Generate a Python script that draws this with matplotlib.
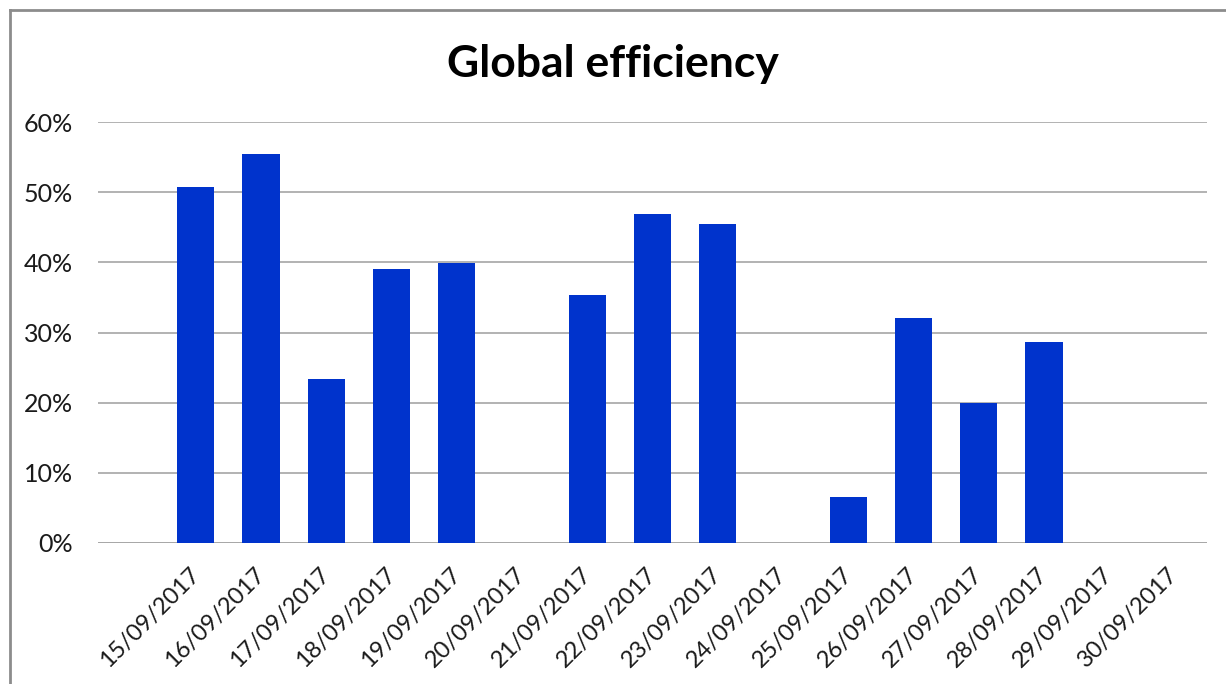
import matplotlib.pyplot as plt
import matplotlib.transforms as mtransforms
from matplotlib.lines import Line2D
from matplotlib.ticker import PercentFormatter

plt.rcParams['font.family'] = ['Lato', 'DejaVu Sans']

# data
dates = ['15/09/2017', '16/09/2017', '17/09/2017', '18/09/2017', '19/09/2017',
         '20/09/2017', '21/09/2017', '22/09/2017', '23/09/2017', '24/09/2017',
         '25/09/2017', '26/09/2017', '27/09/2017', '28/09/2017', '29/09/2017',
         '30/09/2017']
efficiency = [0.507, 0.555, 0.234, 0.391, 0.399, 0.0, 0.354, 0.469, 0.454, 0.0,
              0.066, 0.321, 0.199, 0.286, 0.0, 0.0]

fig = plt.figure(figsize=(12.26, 6.84), dpi=100)
ax = fig.add_axes([98 / 1226, 1 - 543 / 684, (1207 - 98) / 1226, (543 - 122) / 684])

x = list(range(len(dates)))
ax.bar(x, efficiency, width=0.57, color='#0033cc', zorder=3)

ax.set_xlim(-1.5, len(dates) - 0.5)
ax.set_ylim(0, 0.6)
ax.set_yticks([0, 0.1, 0.2, 0.3, 0.4, 0.5, 0.6])
ax.yaxis.set_major_formatter(PercentFormatter(1.0, decimals=0))
ax.grid(True, axis='y', color='#a6a6a6', linewidth=1.2, zorder=0)
for s in ['top', 'right', 'left', 'bottom']:
    ax.spines[s].set_visible(False)
ax.axhline(0, color='#a6a6a6', linewidth=1.2, zorder=2)

ax.set_xticks(x)
ax.set_xticklabels(dates, rotation=45, ha='right', rotation_mode='anchor')
ax.tick_params(axis='x', length=0, pad=15, labelsize=17, labelcolor='#1a1a1a')
ax.tick_params(axis='y', length=0, pad=18, labelsize=18, labelcolor='#1a1a1a')

# nudge date labels a little to the left
shift = mtransforms.ScaledTranslation(-7 / 100, 0, fig.dpi_scale_trans)
for lbl in ax.get_xticklabels():
    lbl.set_transform(lbl.get_transform() + shift)

fig.text(0.5, 1 - 64 / 684, 'Global efficiency', ha='center', va='center',
         fontsize=32, fontweight='bold')

# chart border (top and left visible)
fig.add_artist(Line2D([10 / 1226, 10 / 1226], [0, 1 - 10 / 684],
                      color='#8c8c8c', linewidth=2, transform=fig.transFigure))
fig.add_artist(Line2D([10 / 1226, 1], [1 - 10 / 684, 1 - 10 / 684],
                      color='#8c8c8c', linewidth=2, transform=fig.transFigure))

fig.savefig('out.png', dpi=100, facecolor='white')
